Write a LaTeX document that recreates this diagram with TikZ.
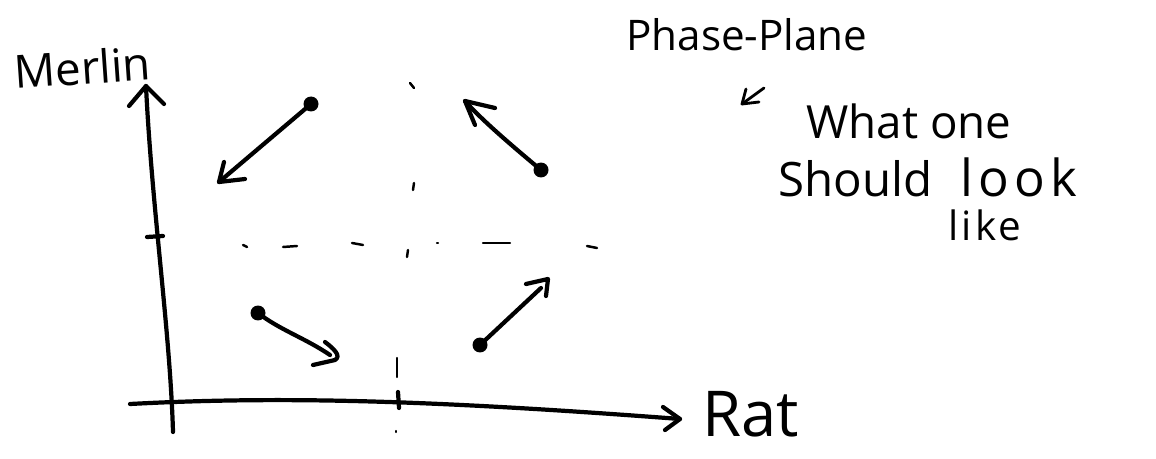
\documentclass[tikz,border=0pt]{standalone}
\usepackage{fontspec}
\setmainfont{Open Sans}
\begin{document}
\begin{tikzpicture}[x=0.02cm,y=-0.02cm, line cap=round, line join=round,
  ink/.style={line width=2.4pt},
  thinink/.style={line width=1.6pt},
  dashink/.style={line width=1.4pt},
  dot/.style={circle, fill, inner sep=0pt, minimum size=0.3cm},
  lbl/.style={inner sep=0pt, anchor=base west}]
\useasboundingbox (0,0) rectangle (1156,459);

% ---- axes ----
\coordinate (ybot) at (173,432);
\coordinate (ytip) at (146,86);
\coordinate (xleft) at (130,404);
\coordinate (xtip) at (680,419);
\draw[ink] (ybot) .. controls (170,330) and (152,210) .. (ytip);
\draw[ink] (129,106) -- (ytip) -- (164,104);
\draw[ink] (xleft) .. controls (280,396) and (430,400) .. (xtip);
\draw[ink] (663,407) -- (xtip) -- (665,430);
% ticks
\draw[ink] (147,237) -- (163,236);
\draw[ink] (398,392) -- (399,408);

% ---- dashed guide lines ----
\draw[dashink] (243,245) -- (247,247);
\draw[dashink] (283,247) -- (297,246);
\draw[dashink] (352,243) -- (363,245);
\draw[dashink] (437,243) -- (438,243);
\draw[dashink] (483,243) -- (510,243);
\draw[dashink] (587,246) -- (597,248);
\draw[dashink] (410,83) -- (414,88);
\draw[dashink] (414,183) -- (413,190);
\draw[dashink] (408,250) -- (407,257);
\draw[dashink] (397,358) -- (397,377);
\draw[dashink] (396,431) -- (396,432);

% ---- trajectories ----
\node[dot] (d1) at (311,104) {};
\coordinate (t1) at (219,182);
\draw[ink] (d1.center) -- (t1);
\draw[ink] (224,162) -- (t1) -- (245,179);

\node[dot] (d2) at (541,170) {};
\coordinate (t2) at (465,101);
\draw[ink] (d2.center) .. controls (505,140) and (480,118) .. (t2);
\draw[ink] (475,125) -- (t2) -- (495,108);

\node[dot] (d3) at (258,313) {};
\coordinate (t3) at (330,355);
\draw[ink] (d3.center) .. controls (280,330) and (305,338) .. (t3);
\draw[ink] (325,342) .. controls (333,348) and (342,356) .. (335,360) -- (313,365);

\node[dot] (d4) at (480,345) {};
\coordinate (t4) at (548,279);
\draw[ink] (d4.center) -- (541,288);
\draw[ink] (526,284) -- (t4) -- (546,296);

% ---- labels ----
\node[lbl, rotate=4, font=\fontsize{26}{30}\selectfont] (merlin) at (15,89) {Merlin};
\node[lbl, font=\fontsize{24}{28}\selectfont] (title) at (626,51) {Phase-Plane};
\coordinate (pa) at (742,104);
\draw[thinink] (764,88) -- (pa);
\draw[thinink] (746,89) -- (pa) -- (759,102);
\node[lbl, font=\fontsize{26}{30}\selectfont] (what) at (806,139) {What one};
\node[lbl, font=\fontsize{27}{31}\selectfont] (should) at (778,197) {Should};
\node[lbl, font=\fontsize{29}{33}\selectfont\addfontfeatures{LetterSpace=10}] (look) at (960,197) {look};
\node[lbl, font=\fontsize{23}{27}\selectfont\addfontfeatures{LetterSpace=8}] (like) at (948,240) {like};
\node[lbl, font=\fontsize{36}{42}\selectfont] (rat) at (702,436) {Rat};
\end{tikzpicture}
\end{document}
